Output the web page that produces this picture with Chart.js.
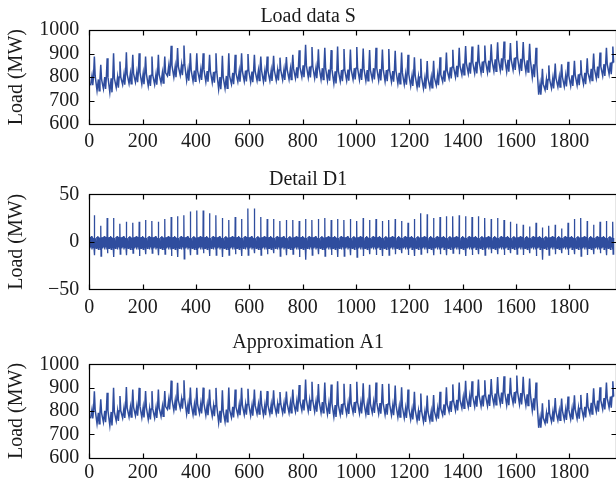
<!DOCTYPE html>
<html>
<head>
<meta charset="utf-8">
<script src="https://cdn.jsdelivr.net/npm/chart.js@4/dist/chart.umd.min.js"></script>
<style>
  html, body { margin: 0; padding: 0; background: #fff; overflow: hidden; width: 616px; height: 487px; }
  .box { position: absolute; left: 0; }
</style>
</head>
<body>
<div class="box" style="top:0px"><canvas id="c1" width="640" height="160"></canvas></div>
<div class="box" style="top:160px"><canvas id="c2" width="640" height="170"></canvas></div>
<div class="box" style="top:330px"><canvas id="c3" width="640" height="157"></canvas></div>
<script>
// hourly samples, one daily cycle = 24 samples, 82 days
const xTicks = [0, 200, 400, 600, 800, 1000, 1200, 1400, 1600, 1800];
const xMax = 1976;

// Load data S: per day trough / plateau / evening peak (MW)
const sLow = [765, 742, 750, 735, 755, 768, 772, 778, 770, 762,
  768, 775, 805, 800, 808, 785, 782, 788, 780, 776,
  748, 752, 770, 780, 782, 778, 785, 780, 784, 786,
  788, 790, 795, 800, 798, 795, 790, 785, 773, 782,
  785, 790, 788, 784, 790, 786, 782, 780, 772, 768,
  762, 756, 751, 755, 765, 780, 794, 800, 810, 815,
  816, 818, 820, 825, 828, 823, 830, 826, 822, 800,
  725, 745, 752, 758, 760, 762, 765, 770, 785, 795,
  805, 812];
const sMid = [805, 790, 800, 795, 800, 812, 815, 820, 815, 808,
  812, 818, 850, 845, 852, 830, 828, 832, 826, 822,
  800, 805, 818, 825, 828, 824, 828, 825, 828, 830,
  832, 835, 842, 850, 845, 840, 838, 832, 825, 830,
  832, 838, 835, 830, 838, 834, 830, 826, 818, 812,
  806, 800, 795, 798, 810, 828, 842, 848, 858, 862,
  865, 866, 870, 876, 880, 874, 882, 878, 872, 855,
  770, 790, 796, 800, 805, 808, 812, 818, 835, 845,
  855, 862];
const sHigh = [888, 852, 880, 902, 866, 906, 895, 902, 888, 888,
  895, 888, 934, 924, 935, 902, 902, 902, 895, 902,
  891, 902, 895, 902, 898, 895, 888, 888, 891, 883,
  885, 895, 914, 938, 928, 919, 925, 915, 930, 920,
  918, 928, 922, 915, 925, 918, 920, 912, 905, 895,
  885, 878, 868, 870, 885, 905, 917, 925, 932, 930,
  938, 935, 940, 948, 952, 945, 955, 950, 942, 925,
  835, 850, 858, 855, 865, 870, 872, 880, 900, 905,
  925, 930];

// Detail D1: per day spike and dip, plus typical hourly wiggle
const dUp = [28, 17, 25, 25, 19, 21, 20, 21, 23, 22,
  21, 24, 26, 27, 28, 32, 33, 33, 30, 28,
  25, 23, 26, 24, 35, 35, 26, 24, 24, 22,
  23, 23, 22, 24, 23, 24, 25, 23, 24, 23,
  24, 22, 25, 23, 24, 22, 23, 24, 22, 20,
  24, 30, 29, 25, 26, 27, 27, 28, 27, 26,
  27, 25, 24, 25, 23, 21, 19, 18, 16, 20,
  15, 17, 18, 14, 20, 24, 25, 22, 18, 21,
  22, 21];
const dDown = [-14, -15, -12, -16, -13, -14, -12, -15, -13, -12,
  -14, -13, -15, -16, -18, -14, -13, -12, -15, -14,
  -16, -14, -13, -15, -14, -12, -14, -13, -12, -15,
  -14, -13, -16, -19, -14, -13, -15, -14, -16, -15,
  -14, -16, -15, -13, -14, -15, -14, -13, -12, -14,
  -15, -13, -12, -14, -13, -14, -12, -13, -15, -14,
  -13, -14, -12, -13, -14, -12, -13, -14, -12, -15,
  -19, -14, -13, -12, -14, -13, -15, -14, -13, -12,
  -14, -13];
const d1Hours = [0, 2, 4, 6, 8, 10, 12, 14, 16, 18];
const d1Wiggle = [4, -7, 5, -6, 6, -8, 5, -6, 4, -8];

// Approximation A1
const aLow = [768, 745, 752, 738, 757, 770, 774, 780, 772, 764,
  770, 777, 807, 802, 810, 787, 784, 790, 782, 778,
  750, 754, 772, 782, 784, 780, 787, 782, 786, 788,
  790, 792, 797, 802, 800, 797, 792, 787, 775, 784,
  787, 792, 790, 786, 792, 788, 784, 782, 774, 770,
  764, 758, 753, 757, 767, 782, 796, 802, 812, 817,
  818, 820, 822, 827, 830, 825, 832, 828, 824, 802,
  728, 747, 754, 760, 762, 764, 767, 772, 787, 797,
  807, 814];
const aMid = [806, 792, 801, 796, 801, 813, 816, 821, 816, 809,
  813, 819, 850, 845, 851, 830, 828, 832, 826, 822,
  801, 806, 818, 825, 828, 824, 828, 825, 828, 830,
  832, 835, 842, 849, 845, 840, 838, 832, 825, 830,
  832, 838, 835, 830, 837, 834, 830, 826, 818, 812,
  806, 800, 796, 798, 810, 828, 842, 848, 857, 862,
  865, 866, 870, 875, 879, 874, 881, 877, 871, 854,
  771, 790, 796, 800, 805, 808, 812, 818, 835, 845,
  855, 862];
const aHigh = [884, 850, 878, 900, 864, 903, 892, 899, 886, 885,
  892, 886, 930, 921, 932, 900, 899, 900, 892, 899,
  889, 900, 892, 899, 895, 892, 886, 885, 889, 881,
  883, 892, 911, 935, 925, 916, 922, 913, 927, 917,
  915, 925, 919, 912, 922, 915, 917, 909, 902, 892,
  882, 875, 866, 868, 882, 902, 914, 922, 929, 927,
  935, 932, 937, 945, 949, 942, 952, 947, 939, 922,
  833, 848, 855, 853, 862, 867, 869, 877, 897, 902,
  922, 927];

const lineColor = '#2f4d9e';
const serif = "'Liberation Serif', 'Times New Roman', serif";

// day cycle: trough (h5) -> plateau (h10) -> dip (h13) -> plateau (h16) -> peak (h19) -> shoulder (h22)
function dailyPoints(low, mid, high) {
  const pts = [];
  for (let d = 0; d < low.length; d++) {
    const h0 = d * 24;
    pts.push({x: h0 + 5, y: low[d]});
    pts.push({x: h0 + 10, y: mid[d]});
    pts.push({x: h0 + 13, y: low[d]});
    pts.push({x: h0 + 16, y: mid[d]});
    pts.push({x: h0 + 19, y: high[d]});
    pts.push({x: h0 + 22, y: mid[d]});
  }
  return pts;
}

function detailPoints() {
  const pts = [];
  for (let d = 0; d < dUp.length; d++) {
    const h0 = d * 24;
    d1Hours.forEach((h, i) => pts.push({x: h0 + h, y: d1Wiggle[i]}));
    pts.push({x: h0 + 19, y: dUp[d]});
    pts.push({x: h0 + 20, y: dDown[d]});
    pts.push({x: h0 + 22, y: d1Wiggle[0]});
  }
  return pts;
}

const frame = {
  id: 'frame',
  afterDraw(chart) {
    const {ctx, chartArea: a} = chart;
    const x = chart.scales.x, y = chart.scales.y;
    const L = Math.round(a.left) + 0.5, R = Math.round(a.right) + 0.5;
    const T = Math.round(a.top) + 0.5, B = Math.round(a.bottom) + 0.5;
    ctx.save();
    ctx.strokeStyle = '#000';
    ctx.lineWidth = 1.2;
    ctx.strokeRect(L, T, R - L, B - T);
    ctx.beginPath();
    x.ticks.forEach(t => {
      const px = Math.round(x.getPixelForValue(t.value)) + 0.5;
      ctx.moveTo(px, B); ctx.lineTo(px, B - 5);
      ctx.moveTo(px, T); ctx.lineTo(px, T + 5);
    });
    y.ticks.forEach(t => {
      const py = Math.round(y.getPixelForValue(t.value)) + 0.5;
      ctx.moveTo(L, py); ctx.lineTo(L + 5, py);
      ctx.moveTo(R, py); ctx.lineTo(R - 5, py);
    });
    ctx.stroke();
    ctx.restore();
  }
};

function makeChart(id, c) {
  new Chart(document.getElementById(id), {
    type: 'line',
    data: {
      datasets: [{
        data: c.points,
        borderColor: lineColor,
        borderWidth: c.lineWidth,
        pointRadius: 0,
        tension: 0,
        fill: false
      }]
    },
    options: {
      responsive: false,
      animation: false,
      events: [],
      layout: { padding: { left: 0, right: 23.7, top: 0, bottom: 0 } },
      plugins: {
        legend: { display: false },
        tooltip: { enabled: false },
        title: {
          display: true,
          text: c.title,
          color: '#1a1a1a',
          font: { family: serif, size: 20, weight: 'normal', lineHeight: 1 },
          padding: { top: c.titleTop, bottom: c.titleBottom }
        }
      },
      scales: {
        x: {
          type: 'linear',
          min: 0,
          max: xMax,
          grid: { display: false, drawTicks: false },
          border: { display: false },
          afterBuildTicks: s => { s.ticks = xTicks.map(v => ({value: v})); },
          ticks: {
            autoSkip: false,
            maxRotation: 0,
            color: '#1a1a1a',
            padding: c.xPad,
            font: { family: serif, size: 20, lineHeight: 1 },
            callback: v => String(v)
          },
          afterFit: s => { s.height = c.xHeight; }
        },
        y: {
          min: c.yTicks[0],
          max: c.yTicks[c.yTicks.length - 1],
          grid: { display: false, drawTicks: false },
          border: { display: false },
          afterBuildTicks: s => { s.ticks = c.yTicks.map(v => ({value: v})); },
          ticks: {
            autoSkip: false,
            color: '#1a1a1a',
            padding: 10,
            font: { family: serif, size: 20, lineHeight: 1 },
            callback: v => String(v).replace('-', '\u2212')
          },
          title: {
            display: true,
            text: 'Load (MW)',
            color: '#1a1a1a',
            font: { family: serif, size: 20, lineHeight: 1 },
            padding: { top: 7, bottom: 0 }
          },
          afterFit: s => { s.width = 89.3; }
        }
      }
    },
    plugins: [frame]
  });
}

makeChart('c1', {
  title: 'Load data S', points: dailyPoints(sLow, sMid, sHigh), lineWidth: 1.5,
  yTicks: [600, 700, 800, 900, 1000],
  titleTop: 6.5, titleBottom: 3.7, xPad: 7.3, xHeight: 36
});
makeChart('c2', {
  title: 'Detail D1', points: detailPoints(), lineWidth: 1.3,
  yTicks: [-50, 0, 50],
  titleTop: 9.3, titleBottom: 5, xPad: 8.7, xHeight: 40.7
});
makeChart('c3', {
  title: 'Approximation A1', points: dailyPoints(aLow, aMid, aHigh), lineWidth: 1.5,
  yTicks: [600, 700, 800, 900, 1000],
  titleTop: 3.2, titleBottom: 11.1, xPad: 5.3, xHeight: 29.3
});
</script>
</body>
</html>
